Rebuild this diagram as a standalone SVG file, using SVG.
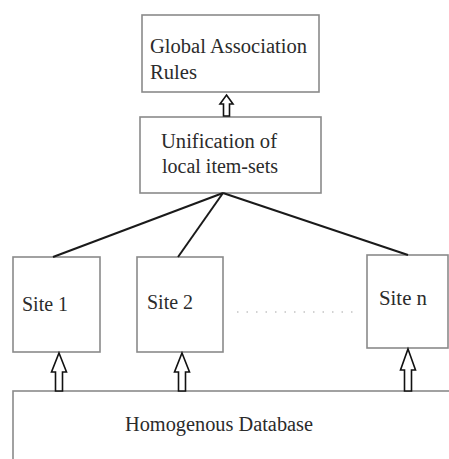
<svg xmlns="http://www.w3.org/2000/svg" width="449" height="459" viewBox="0 0 449 459">
<style>
.box{fill:#fff;stroke:#8a8a8a;stroke-width:1.6}
.t{font-family:"Liberation Serif","Times New Roman",serif;font-size:20px;fill:#2b2b2b}
.con{stroke:#1a1a1a;stroke-width:2;fill:none}
.arr{fill:#fff;stroke:#111;stroke-width:1.6;stroke-linejoin:miter}
</style>
<rect width="449" height="459" fill="#fff"/>
<g id="global-rules">
<rect class="box" x="142" y="15" width="177" height="77"/>
<text class="t" x="150" y="53" textLength="157" lengthAdjust="spacingAndGlyphs">Global Association</text>
<text class="t" x="150" y="79" textLength="47" lengthAdjust="spacingAndGlyphs">Rules</text>
</g>
<g id="unification">
<rect class="box" x="140" y="117" width="181" height="76"/>
<text class="t" x="161" y="148" textLength="116" lengthAdjust="spacingAndGlyphs">Unification of</text>
<text class="t" x="162" y="173" textLength="116" lengthAdjust="spacingAndGlyphs">local item-sets</text>
</g>
<g id="site1">
<rect class="box" x="13" y="257" width="87" height="95"/>
<text class="t" x="22" y="311" textLength="46" lengthAdjust="spacingAndGlyphs">Site 1</text>
</g>
<g id="site2">
<rect class="box" x="137" y="257" width="86" height="95"/>
<text class="t" x="147" y="309" textLength="46" lengthAdjust="spacingAndGlyphs">Site 2</text>
</g>
<g id="siten">
<rect class="box" x="367" y="255" width="81" height="93"/>
<text class="t" x="379" y="305" textLength="48" lengthAdjust="spacingAndGlyphs">Site n</text>
</g>
<g id="database">
<rect class="box" x="13" y="391" width="440" height="80"/>
<text class="t" x="125" y="431" textLength="188" lengthAdjust="spacingAndGlyphs">Homogenous Database</text>
</g>
<g id="connectors">
<line class="con" x1="223" y1="193" x2="53" y2="257"/>
<line class="con" x1="223" y1="193" x2="178" y2="257"/>
<line class="con" x1="223" y1="193" x2="408" y2="255"/>
<line x1="237" y1="312" x2="360" y2="312" stroke="#c4c4c4" stroke-width="1.5" stroke-dasharray="1.5 8"/>
<path class="arr" d="M226.5 95 L233 104 L229.5 104 L229.5 116 L223.5 116 L223.5 104 L220 104 Z"/>
<path class="arr" d="M59 353 L66.5 372 L62.5 372 L62.5 391 L55.5 391 L55.5 372 L51.5 372 Z"/>
<path class="arr" d="M182 353 L189.5 372 L185.5 372 L185.5 391 L178.5 391 L178.5 372 L174.5 372 Z"/>
<path class="arr" d="M408 349 L415.5 370 L411.5 370 L411.5 391 L404.5 391 L404.5 370 L400.5 370 Z"/>
</g>
</svg>
